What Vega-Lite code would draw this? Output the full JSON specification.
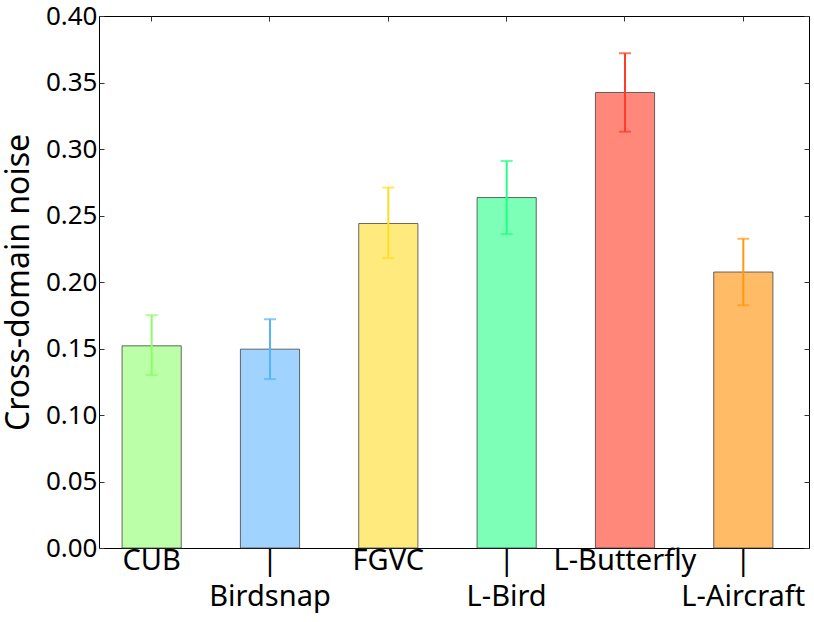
{
  "$schema": "https://vega.github.io/schema/vega-lite/v6.json",
  "autosize": {"type": "none"},
  "padding": {"left": 99, "top": 16, "right": 5, "bottom": 74},
  "width": 710,
  "height": 532,
  "background": "white",
  "config": {
    "font": "Noto Sans",
    "view": {"stroke": "#000000", "strokeWidth": 1},
    "axis": {"grid": false, "domain": false, "tickColor": "#333333", "labelColor": "#000000", "titleColor": "#000000", "labelFont": "Noto Sans", "titleFont": "Noto Sans", "titleFontWeight": "normal"}
  },
  "data": {
    "values": [
      {"name": "CUB", "noise": 0.152, "lo": 0.130, "hi": 0.175},
      {"name": "Birdsnap", "noise": 0.1495, "lo": 0.127, "hi": 0.172},
      {"name": "FGVC", "noise": 0.244, "lo": 0.218, "hi": 0.271},
      {"name": "L-Bird", "noise": 0.2635, "lo": 0.236, "hi": 0.291},
      {"name": "L-Butterfly", "noise": 0.3425, "lo": 0.313, "hi": 0.372},
      {"name": "L-Aircraft", "noise": 0.2075, "lo": 0.1825, "hi": 0.2325}
    ]
  },
  "resolve": {"axis": {"x": "independent", "y": "independent"}},
  "layer": [
    {
      "mark": {"type": "bar", "stroke": "#444444", "strokeOpacity": 0.8, "strokeWidth": 1},
      "encoding": {
        "x": {
          "field": "name", "type": "nominal", "sort": null,
          "scale": {"paddingInner": 0.5, "paddingOuter": 0.25, "align": 0.39},
          "axis": {
            "orient": "bottom", "title": null, "labelAngle": 0, "labelFontSize": 29,
            "labelPadding": 3, "tickSize": -5, "labelBaseline": "top", "labelLineHeight": 36,
            "labelExpr": "(datum.value == 'Birdsnap' || datum.value == 'L-Bird' || datum.value == 'L-Aircraft') ? ['|', datum.value] : datum.value"
          }
        },
        "y": {
          "field": "noise", "type": "quantitative",
          "scale": {"domain": [0, 0.4], "nice": false},
          "axis": {
            "orient": "left", "title": "Cross-domain noise", "titleFontSize": 32, "titlePadding": 10,
            "labelFontSize": 26, "tickSize": -5, "labelPadding": 7, "values": [0, 0.05, 0.1, 0.15, 0.2, 0.25, 0.3, 0.35, 0.4],
            "format": ".2f"
          }
        },
        "fill": {
          "field": "name", "type": "nominal", "sort": null, "legend": null,
          "scale": {"domain": ["CUB", "Birdsnap", "FGVC", "L-Bird", "L-Butterfly", "L-Aircraft"], "range": ["#bbffa8", "#a0d4ff", "#ffeb7d", "#7dffb8", "#ff887b", "#ffbb66"]}
        }
      }
    },
    {
      "mark": {"type": "rule", "strokeWidth": 2},
      "encoding": {
        "x": {"field": "name", "type": "nominal", "sort": null, "axis": {"orient": "top", "title": null, "labels": false, "tickSize": -5}},
        "y": {"field": "lo", "type": "quantitative", "axis": {"orient": "right", "title": null, "labels": false, "tickSize": -5, "values": [0, 0.05, 0.1, 0.15, 0.2, 0.25, 0.3, 0.35, 0.4]}},
        "y2": {"field": "hi"},
        "color": {
          "field": "name", "type": "nominal", "sort": null, "legend": null,
          "scale": {"domain": ["CUB", "Birdsnap", "FGVC", "L-Bird", "L-Butterfly", "L-Aircraft"], "range": ["#88ff66", "#55b4ff", "#ffdd22", "#22ff88", "#ff3b2a", "#ff9911"]}
        }
      }
    },
    {
      "mark": {"type": "tick", "size": 12, "thickness": 2},
      "encoding": {
        "x": {"field": "name", "type": "nominal", "sort": null, "axis": null},
        "y": {"field": "lo", "type": "quantitative", "axis": null},
        "color": {"field": "name", "type": "nominal", "sort": null, "legend": null}
      }
    },
    {
      "mark": {"type": "tick", "size": 12, "thickness": 2},
      "encoding": {
        "x": {"field": "name", "type": "nominal", "sort": null, "axis": null},
        "y": {"field": "hi", "type": "quantitative", "axis": null},
        "color": {"field": "name", "type": "nominal", "sort": null, "legend": null}
      }
    }
  ]
}
